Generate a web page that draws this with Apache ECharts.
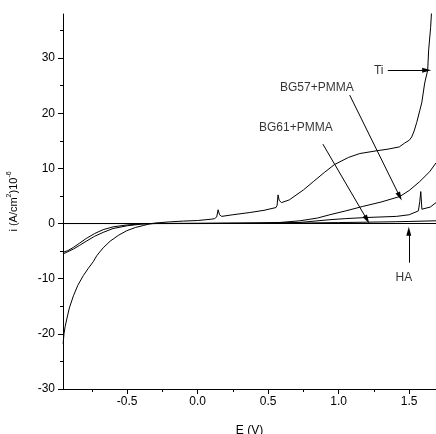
<!DOCTYPE html>
<html><head><meta charset="utf-8">
<script src="https://cdn.jsdelivr.net/npm/echarts@6/dist/echarts.min.js"></script>
<style>html,body{margin:0;padding:0;background:#fff;overflow:hidden}#c{width:436px;height:434px}</style>
</head><body><div id="c"></div>
<script>
// ---- data ----
const tiE = [-0.954,-0.948,-0.94,-0.928,-0.91,-0.881,-0.85,-0.81,-0.775,-0.74,-0.715,-0.67,-0.621,-0.56,-0.503,-0.44,-0.385,-0.34,-0.30,-0.20,-0.10,0.00,0.10,0.12,0.135,0.145,0.155,0.17,0.25,0.37,0.47,0.555,0.563,0.570,0.578,0.595,0.65,0.75,0.82,0.90,0.97,1.07,1.15,1.27,1.35,1.43,1.468,1.50,1.518,1.535,1.553,1.575,1.589,1.61,1.631,1.638,1.652,1.659];
const tiI = [-21.8,-20.0,-18.7,-17.3,-15.3,-13.1,-11.2,-9.4,-8.1,-6.9,-5.8,-4.4,-3.2,-2.1,-1.3,-0.7,-0.35,-0.05,0.1,0.3,0.45,0.55,0.8,0.9,1.2,2.5,1.6,1.3,1.6,2.0,2.4,2.9,3.3,5.2,4.2,3.8,4.3,6.1,7.6,9.3,10.7,12.0,12.7,13.2,13.5,13.9,14.6,15.1,15.7,16.8,18.3,20.5,21.9,25.5,27.8,31.5,35.6,38.7];

const bg57E = [-0.954,-0.92,-0.88,-0.84,-0.79,-0.73,-0.67,-0.60,-0.50,-0.40,-0.30,0.0,0.3,0.45,0.583,0.725,0.85,0.937,1.05,1.17,1.30,1.433,1.50,1.574,1.645,1.69];
const bg57I = [-5.5,-5.1,-4.6,-4.0,-3.2,-2.3,-1.6,-0.9,-0.4,-0.1,0.0,0.02,0.08,0.12,0.2,0.5,1.0,1.6,2.3,3.1,3.9,4.9,6.0,7.6,9.4,11.0];

const bg61E = [-0.954,-0.92,-0.88,-0.84,-0.79,-0.73,-0.67,-0.60,-0.50,-0.40,-0.30,0.0,0.3,0.5,0.725,0.937,1.05,1.2,1.41,1.50,1.565,1.575,1.582,1.59,1.603,1.65,1.69];
const bg61I = [-5.2,-4.9,-4.3,-3.6,-2.7,-1.8,-1.1,-0.6,-0.25,-0.05,0.02,0.05,0.08,0.12,0.2,0.7,0.9,1.1,1.3,1.6,2.3,4.0,5.8,2.6,2.3,3.0,3.8];

const haE = [-0.954,0.0,0.4,0.6,0.8,1.0,1.2,1.4,1.5,1.69];
const haI = [0,0,0.02,0.06,0.12,0.18,0.25,0.33,0.38,0.5];

const xMajorTicks = [-0.5,0,0.5,1.0,1.5];
const xMinorTicks = [-0.75,-0.25,0.25,0.75,1.25];
const yMajorTicks = [-30,-20,-10,0,10,20,30];
const yMinorTicks = [-25,-15,-5,5,15,25,35];

// annotations (data coordinates)
const labelText = ['Ti','BG57+PMMA','BG61+PMMA','HA'];
const labelE = [1.284,0.845,0.696,1.462];
const labelI = [27.8,24.6,17.4,-9.9];
const arrowFromE = [1.348,1.078,0.888,1.497];
const arrowFromI = [27.8,23.3,14.4,-7.1];
const arrowToE = [1.624,1.433,1.201,1.497];
const arrowToI = [27.8,4.9,0.7,-1.4];

// ---- chart ----
const FONT = 'Liberation Sans, Arial, sans-serif';
const zip = (a,b)=>a.map((v,i)=>[v,b[i]]);
const lineSeries = (name,e,i)=>({
  name, type:'line', data: zip(e,i), showSymbol:false, symbol:'none',
  lineStyle:{color:'#000',width:1}, xAxisIndex:0, yAxisIndex:0,
  silent:true, clip:true
});

const chart = echarts.init(document.getElementById('c'), null, {renderer:'canvas'});
const X_MIN = -0.955, X_MAX = 1.69, Y_MIN = -30, Y_MAX = 38;
const axText = {color:'#000', fontSize:12, fontFamily:FONT};

chart.setOption({
  animation:false,
  backgroundColor:'#fff',
  grid:{left:63,right:0,top:14,bottom:45,containLabel:false,outerBoundsMode:'none'},
  xAxis:[
    {type:'value',min:X_MIN,max:X_MAX,position:'bottom',
     axisLine:{show:true,onZero:false,lineStyle:{color:'#000',width:1}},
     axisTick:{show:true,length:5,customValues:xMajorTicks,lineStyle:{color:'#000',width:1}},
     axisLabel:Object.assign({customValues:xMajorTicks,margin:7,formatter:v=>Number(v).toFixed(1)},axText),
     splitLine:{show:false},
     name:'E (V)',nameLocation:'middle',nameGap:36,nameTextStyle:axText},
    {type:'value',min:X_MIN,max:X_MAX,position:'bottom',offset:0,
     axisLine:{show:false,onZero:false},
     axisTick:{show:true,length:3,customValues:xMinorTicks,lineStyle:{color:'#000',width:1}},
     axisLabel:{show:false},splitLine:{show:false}}
  ],
  yAxis:[
    {type:'value',min:Y_MIN,max:Y_MAX,position:'left',
     axisLine:{show:true,onZero:false,lineStyle:{color:'#000',width:1}},
     axisTick:{show:true,length:5,customValues:yMajorTicks,lineStyle:{color:'#000',width:1}},
     axisLabel:Object.assign({customValues:yMajorTicks,margin:8},axText),
     splitLine:{show:false},
     name:'{a|i (A/cm}{s|2}{a|)10}{s|-6}',nameLocation:'middle',nameGap:41,
     nameTextStyle:{rich:{
       a:{fontSize:11,fontFamily:FONT,color:'#000',lineHeight:16},
       s:{fontSize:7,fontFamily:FONT,color:'#000',verticalAlign:'top',lineHeight:16}
     }}},
    {type:'value',min:Y_MIN,max:Y_MAX,position:'left',offset:0,
     axisLine:{show:false,onZero:false},
     axisTick:{show:true,length:3,customValues:yMinorTicks,lineStyle:{color:'#000',width:1}},
     axisLabel:{show:false},splitLine:{show:false}}
  ],
  series:[
    Object.assign(lineSeries('HA',haE,haI),{
      markLine:{silent:true,symbol:['none','none'],label:{show:false},
        lineStyle:{color:'#000',width:1,type:'solid'},
        data:[{yAxis:0}]}
    }),
    lineSeries('BG61+PMMA',bg61E,bg61I),
    lineSeries('BG57+PMMA',bg57E,bg57I),
    lineSeries('Ti',tiE,tiI),
    {
      name:'labels',type:'scatter',xAxisIndex:0,yAxisIndex:0,silent:true,
      symbolSize:0,itemStyle:{color:'rgba(0,0,0,0)'},
      data: labelText.map((t,k)=>({value:[labelE[k],labelI[k]],name:t})),
      label:{show:true,position:'inside',formatter:p=>p.name,color:'#000',fontSize:12,fontFamily:FONT}
    },
    {
      name:'arrows',type:'line',xAxisIndex:0,yAxisIndex:0,silent:true,data:[],
      lineStyle:{color:'#000'},itemStyle:{color:'#000'},
      markLine:{silent:true,label:{show:false},animation:false,
        lineStyle:{color:'#000',width:1,type:'solid'},
        itemStyle:{color:'#000'},
        symbol:['none','triangle'],symbolSize:8,
        data: labelText.map((t,k)=>[
          {coord:[arrowFromE[k],arrowFromI[k]],symbol:'none'},
          {coord:[arrowToE[k],arrowToI[k]],symbol:'triangle',symbolSize:[5,9]}
        ])}
    }
  ]
});
</script></body></html>
